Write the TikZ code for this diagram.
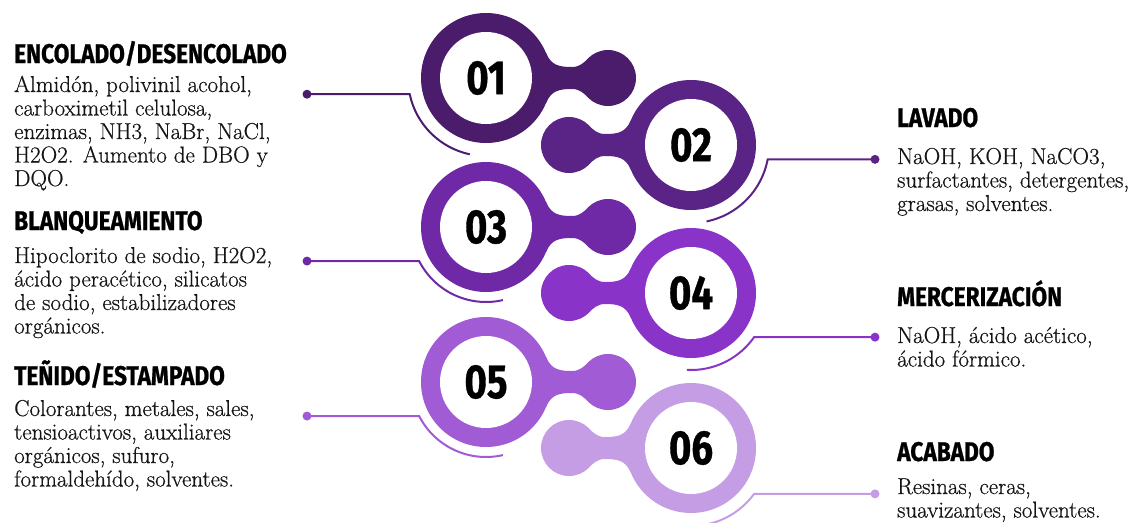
\documentclass[tikz,border=0pt]{standalone}
\usepackage{fontspec}
\usetikzlibrary{calc}
\newfontfamily\titlefont[FakeStretch=0.84,BoldFeatures={FakeBold=0.8}]{Fira Sans}
\newfontfamily\numfont[FakeStretch=0.8,BoldFeatures={FakeBold=0.8}]{Fira Sans}
\newfontfamily\bodyfont[UprightFeatures={FakeBold=0.6}]{Latin Modern Roman}
\definecolor{c1}{HTML}{4B1C6B}
\definecolor{c2}{HTML}{5A2386}
\definecolor{c3}{HTML}{7029A6}
\definecolor{c4}{HTML}{8A33C8}
\definecolor{c5}{HTML}{A05BD5}
\definecolor{c6}{HTML}{C59DE5}
\definecolor{ink}{HTML}{141414}
\tikzset{
  pics/bead/.style={code={
    \fill[#1] (60,-25) .. controls (65.4,-12.1) and (74,-11) .. (86,-11)
      .. controls (94,-11) and (98,-15.6) .. (104,-21) -- (122,0) -- (104,21)
      .. controls (98,15.6) and (94,11) .. (86,11)
      .. controls (74,11) and (65.4,12.1) .. (60,25) -- (0,0) -- cycle;
    \fill[#1] (122,0) circle[radius=28];
    \fill[#1] (0,0) circle[radius=65];
    \fill[white] (0,0) circle[radius=46];
  }},
  numlabel/.style={font=\numfont\bfseries\fontsize{48}{48}\selectfont, inner sep=0pt},
  titlelabel/.style={font=\titlefont\bfseries\fontsize{27}{27}\selectfont, inner sep=0pt, anchor=base west},
  bodytext/.style={font=\bodyfont\fontsize{23}{23.5}\selectfont, text=ink, inner sep=0pt, anchor=base west, align=left},
  dot/.style={circle, inner sep=0pt, minimum size=9pt},
  leader/.style={line width=2pt}
}
\begin{document}
\begin{tikzpicture}[x=1pt,y=-1pt]
\useasboundingbox (0,0) rectangle (1132,522);
\clip (0,0) rectangle (1132,522);
% beads
\pic at (486,78) {bead=c1};
\pic[xscale=-1] at (691,145) {bead=c2};
\pic at (486,227) {bead=c3};
\pic[xscale=-1] at (691,293) {bead=c4};
\pic at (486,382) {bead=c5};
\pic[xscale=-1] at (691,448) {bead=c6};
% numbers
\node[numlabel] (n1) at (486,78) {01};
\node[numlabel] (n2) at (691,145) {02};
\node[numlabel] (n3) at (486,227) {03};
\node[numlabel] (n4) at (691,293) {04};
\node[numlabel] (n5) at (486,382) {05};
\node[numlabel] (n6) at (691,448) {06};
% leaders
\coordinate (s1) at ($(n1.center)+(168:78)$);
\coordinate (s2) at ($(n2.center)+(10.6:78)$);
\coordinate (s3) at ($(n3.center)+(153:75)$);
\coordinate (s4) at ($(n4.center)+(35:77)$);
\coordinate (s5) at ($(n5.center)+(153:75)$);
\coordinate (s6) at ($(n6.center)+(36:78)$);
\node[dot, fill=c1] (d1) at (307,0 |- s1) {};
\node[dot, fill=c2] (d2) at (875,0 |- s2) {};
\node[dot, fill=c3] (d3) at (307,0 |- s3) {};
\node[dot, fill=c4] (d4) at (875,0 |- s4) {};
\node[dot, fill=c5] (d5) at (307,0 |- s5) {};
\node[dot, fill=c6] (d6) at (875,0 |- s6) {};
\draw[leader, c1] (d1.center) -- (s1) arc[start angle=168, end angle=102, radius=78];
\draw[leader, c2] (d2.center) -- (s2) arc[start angle=10.6, end angle=78.5, radius=78];
\draw[leader, c3] (d3.center) -- (s3) arc[start angle=153, end angle=77, radius=75];
\draw[leader, c4] (d4.center) -- (s4) arc[start angle=35, end angle=93, radius=77];
\draw[leader, c5] (d5.center) -- (s5) arc[start angle=153, end angle=77, radius=75];
\draw[leader, c6] (d6.center) -- (s6) arc[start angle=36, end angle=100, radius=78];
% texts left (base anchor = last line's baseline)
\node[titlelabel] (t1) at (14,63) {ENCOLADO/DESENCOLADO};
\node[bodytext] (b1) at (14,186) {Almidón, polivinil acohol,\\carboximetil celulosa,\\enzimas, NH3, NaBr, NaCl,\\H2O2. Aumento de DBO y\\DQO.};
\node[titlelabel] (t3) at (14,230) {BLANQUEAMIENTO};
\node[bodytext] (b3) at (14,333.5) {Hipoclorito de sodio, H2O2,\\ácido peracético, silicatos\\de sodio, estabilizadores\\orgánicos.};
\node[titlelabel] (t5) at (14,385) {TEÑIDO/ESTAMPADO};
\node[bodytext] (b5) at (14,486.5) {Colorantes, metales, sales,\\tensioactivos, auxiliares\\orgánicos, sufuro,\\formaldehído, solventes.};
% texts right
\node[titlelabel] (t2) at (897,127) {LAVADO};
\node[bodytext] (b2) at (897,211) {NaOH, KOH, NaCO3,\\surfactantes, detergentes,\\grasas, solventes.};
\node[titlelabel] (t4) at (897,306) {MERCERIZACIÓN};
\node[bodytext] (b4) at (897,366.5) {NaOH, ácido acético,\\ácido fórmico.};
\node[titlelabel] (t6) at (897,461) {ACABADO};
\node[bodytext] (b6) at (897,517.5) {Resinas, ceras,\\suavizantes, solventes.};
\end{tikzpicture}
\end{document}
